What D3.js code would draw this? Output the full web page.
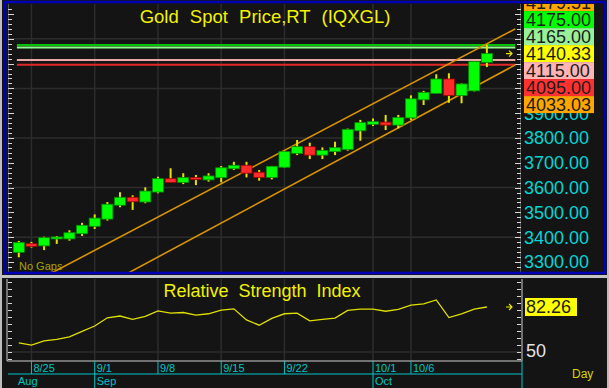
<!DOCTYPE html>
<html>
<head>
<meta charset="utf-8">
<script src="https://cdn.jsdelivr.net/npm/d3@7"></script>
<style>
  html, body { margin: 0; padding: 0; background: #141414; }
  svg { display: block; font-family: "Liberation Sans", Arial, sans-serif; }
</style>
</head>
<body>
<svg id="chart" width="609" height="388"></svg>
<script>
// ---- data ----
const dates = ["8/22","8/25","8/26","8/27","8/28","8/29","9/1","9/2","9/3","9/4","9/5",
  "9/8","9/9","9/10","9/11","9/12","9/15","9/16","9/17","9/18","9/19",
  "9/22","9/23","9/24","9/25","9/26","9/29","9/30","10/1","10/2","10/3",
  "10/6","10/7","10/8","10/9","10/10","10/13","10/14"];
const open  = [3339,3374,3365,3394,3393,3414,3444,3473,3529,3561,3542,3582,3636,3621,3641,3631,3640,3676,3690,3662,
  3641,3682,3738,3765,3731,3745,3754,3829,3855,3864,3852,3881,3954,3980,4038,3971,3990,4105];
const high  = [3385,3381,3402,3405,3428,3458,3492,3542,3581,3569,3601,3644,3678,3658,3651,3658,3687,3704,3704,3671,
  3687,3747,3792,3781,3762,3785,3838,3873,3879,3893,3893,3972,3990,4057,4061,4020,4110,4176];
const low   = [3319,3358,3348,3373,3386,3405,3433,3467,3521,3510,3537,3577,3621,3614,3610,3624,3621,3671,3641,3628,
  3633,3680,3731,3715,3715,3731,3749,3789,3848,3832,3839,3873,3933,3980,3942,3940,3988,4086];
const close = [3379,3363,3398,3401,3418,3448,3477,3533,3561,3543,3586,3636,3621,3641,3632,3647,3680,3690,3658,3641,
  3686,3745,3765,3731,3750,3761,3835,3862,3866,3852,3883,3958,3984,4038,3971,4018,4108,4140.33];
const rsi = [56.5,55.0,58.0,59.1,60.9,64.8,68.6,74.5,75.8,73.4,75.6,79.4,77.8,78.3,76.5,77.4,80.0,80.9,73.0,69.2,
  74.1,77.4,77.8,72.3,73.4,74.3,79.8,80.7,80.7,79.2,80.5,83.6,84.5,87.3,74.7,77.4,80.7,82.26];

const priceTicks = [3300,3400,3500,3600,3700,3800,3900];
const gridPrices = [3400,3600,3800,4000,4200];
const dayTicks = ["8/25","9/1","9/8","9/15","9/22","10/1","10/6"];
const monthNames = ["Aug","Sep","Oct"];
const monthStarts = ["8/22","9/1","10/1"];

// channel lines: [bar index, price] anchors
const upperChannel = [[3.3, 3274.6],[37, 4179.51]];
const lowerChannel = [[9.1, 3268],[37, 4033.03]];

const levels = [4175, 4165, 4115, 4095];
const levelColors = ["#00c000","#90ff90","#e8a8a8","#e02828"];

const tagValues = [4179.51, 4175, 4165, 4140.33, 4115, 4095, 4033.03];
const tagColors = ["#ffa500","#00ff00","#98f098","#ffff00","#ffb4b4","#ff3030","#ffa500"];

// ---- layout ----
const svg = d3.select("#chart");
const P = {left: 8, right: 521, top: 4, bottom: 272};
const R = {top: 279, bottom: 361};

const x = d3.scaleLinear().domain([0, 37]).range([18.8, 486.85]);
const y = d3.scaleLinear().domain([3300, 3800]).range([262, 138]);
const yr = d3.scaleLinear().domain([41.4, 101.6]).range([364, 280]);
const xDate = d => x(dates.indexOf(d));

svg.append("rect").attr("width", 609).attr("height", 388).attr("fill", "#141414");

const defs = svg.append("defs");
defs.append("clipPath").attr("id", "clipTop")
  .append("rect").attr("x", P.left).attr("y", P.top).attr("width", P.right - P.left).attr("height", P.bottom - P.top);
defs.append("clipPath").attr("id", "clipRsi")
  .append("rect").attr("x", P.left).attr("y", R.top).attr("width", P.right - P.left).attr("height", R.bottom - R.top);
defs.append("clipPath").attr("id", "clipAxis")
  .append("rect").attr("x", P.right).attr("y", P.top).attr("width", 90).attr("height", P.bottom - P.top);

// ---- price panel grid ----
const pricePanel = svg.append("g").attr("clip-path", "url(#clipTop)");

pricePanel.append("g")
  .selectAll("line")
  .data(dayTicks)
  .join("line")
    .attr("x1", d => xDate(d)).attr("x2", d => xDate(d))
    .attr("y1", P.top).attr("y2", P.bottom)
    .attr("stroke", "#2c2c2c").attr("stroke-width", 1.5);

pricePanel.append("g")
  .selectAll("line")
  .data(gridPrices)
  .join("line")
    .attr("x1", P.left).attr("x2", P.right)
    .attr("y1", d => y(d)).attr("y2", d => y(d))
    .attr("stroke", "#2c2c2c").attr("stroke-width", 1.5);

// rulers left and right
const rulerVals = d3.range(3260, 4340, 20);
[[P.left, 1], [P.right, -1]].forEach(([rx, dir]) => {
  const g = pricePanel.append("g").attr("stroke", "#d8d8d8").attr("stroke-width", 1);
  g.append("line").attr("x1", rx).attr("x2", rx).attr("y1", P.top).attr("y2", P.bottom).attr("stroke", "#9a9a9a");
  g.selectAll(".t")
    .data(rulerVals)
    .join("line")
      .attr("class", "t")
      .attr("x1", rx).attr("x2", d => rx + dir * (d % 100 === 0 ? 6 : 4))
      .attr("y1", d => Math.round(y(d)) + 0.5).attr("y2", d => Math.round(y(d)) + 0.5);
});

// horizontal levels
pricePanel.append("g")
  .selectAll("line")
  .data(levels)
  .join("line")
    .attr("x1", x(-0.15)).attr("x2", x(39.25))
    .attr("y1", d => y(d)).attr("y2", d => y(d))
    .attr("stroke", (d, i) => levelColors[i])
    .attr("stroke-width", (d, i) => i === 0 ? 2.2 : 2);

// channel lines
const extend = (a) => {
  const slope = (a[1][1] - a[0][1]) / (a[1][0] - a[0][0]);
  const i0 = a[0][0] - 12, i1 = 39.25;
  return [[i0, a[0][1] + slope * (i0 - a[0][0])], [i1, a[0][1] + slope * (i1 - a[0][0])]];
};
pricePanel.append("g")
  .selectAll("line")
  .data([upperChannel, lowerChannel].map(extend))
  .join("line")
    .attr("x1", d => x(d[0][0])).attr("y1", d => y(d[0][1]))
    .attr("x2", d => x(d[1][0])).attr("y2", d => y(d[1][1]))
    .attr("stroke", "#d89400").attr("stroke-width", 1.6);

// candles
const candles = pricePanel.append("g")
  .selectAll("g")
  .data(dates.map((d, i) => ({i, o: open[i], h: high[i], l: low[i], c: close[i]})))
  .join("g");

candles.append("line")
  .attr("x1", d => x(d.i)).attr("x2", d => x(d.i))
  .attr("y1", d => y(d.h)).attr("y2", d => y(d.l))
  .attr("stroke", "#e4e400").attr("stroke-width", 2);

candles.append("rect")
  .attr("x", d => x(d.i) - 5.5)
  .attr("width", 11)
  .attr("y", d => y(Math.max(d.o, d.c)))
  .attr("height", d => Math.max(2, Math.abs(y(d.o) - y(d.c))))
  .attr("fill", d => d.c >= d.o ? "#00ff00" : "#ff2a2a")
  .attr("stroke", d => d.c >= d.o ? "#009000" : "#a00000")
  .attr("stroke-width", 0.8);

// current price arrow
const arrow = (g, ax, ay) => {
  g.append("path")
    .attr("d", `M${ax - 6},${ay} L${ax},${ay} M${ax - 3},${ay - 3} L${ax},${ay} L${ax - 3},${ay + 3}`)
    .attr("stroke", "#e8e800").attr("stroke-width", 1.2).attr("fill", "none");
};
arrow(svg, 512, y(close[close.length - 1]));

pricePanel.append("text")
  .attr("x", 19).attr("y", 270)
  .attr("font-size", 11).attr("fill", "#a4a400")
  .text("No Gaps");

svg.append("text")
  .attr("x", 265).attr("y", 23)
  .attr("text-anchor", "middle")
  .attr("font-size", 18.5).attr("word-spacing", 6)
  .attr("fill", "#f2f200")
  .text("Gold Spot Price,RT (IQXGL)");

// right price axis
const axisG = svg.append("g").attr("clip-path", "url(#clipAxis)");
axisG.selectAll("text")
  .data(priceTicks)
  .join("text")
    .attr("x", 524).attr("y", d => y(d))
    .attr("dy", "0.36em")
    .attr("font-size", 18).attr("fill", "#00d6d6")
    .text(d => d.toFixed(2));

// stacked value tags
const anchorIdx = tagValues.indexOf(close[close.length - 1]);
const anchorY = y(close[close.length - 1]);
const tags = axisG.selectAll(".tag")
  .data(tagValues)
  .join("g")
    .attr("class", "tag")
    .attr("transform", (d, i) => `translate(524,${anchorY + (i - anchorIdx) * 17})`);
tags.append("rect")
  .attr("x", 0).attr("y", -8.5).attr("width", 70).attr("height", 17)
  .attr("fill", (d, i) => tagColors[i]);
tags.append("text")
  .attr("x", 2).attr("dy", "0.36em")
  .attr("font-size", 18).attr("fill", "#1c1c1c")
  .text(d => d.toFixed(2));

// ---- frames ----
svg.append("rect")
  .attr("x", 5).attr("y", 2).attr("width", 600).attr("height", 271)
  .attr("fill", "none").attr("stroke", "#0000b8").attr("stroke-width", 2.5);
svg.append("line")
  .attr("x1", 0).attr("x2", 609).attr("y1", 276.5).attr("y2", 276.5)
  .attr("stroke", "#c4c4c4").attr("stroke-width", 3);
svg.append("line")
  .attr("x1", 1).attr("x2", 1).attr("y1", 0).attr("y2", 388)
  .attr("stroke", "#bdbdbd").attr("stroke-width", 2);
svg.append("line")
  .attr("x1", 608).attr("x2", 608).attr("y1", 0).attr("y2", 388)
  .attr("stroke", "#bdbdbd").attr("stroke-width", 2);

// ---- RSI panel ----
const rsiG = svg.append("g").attr("clip-path", "url(#clipRsi)");
rsiG.append("g")
  .selectAll("line")
  .data(dayTicks)
  .join("line")
    .attr("x1", d => xDate(d)).attr("x2", d => xDate(d))
    .attr("y1", R.top).attr("y2", R.bottom)
    .attr("stroke", "#2c2c2c").attr("stroke-width", 1.5);
rsiG.append("line")
  .attr("x1", P.left).attr("x2", P.right)
  .attr("y1", yr(50)).attr("y2", yr(50))
  .attr("stroke", "#2c2c2c").attr("stroke-width", 1.5);

const rsiRuler = d3.range(45, 101, 5);
[[P.left, 1], [P.right, -1]].forEach(([rx, dir]) => {
  rsiG.append("g").attr("stroke", "#d8d8d8")
    .selectAll("line")
    .data(rsiRuler)
    .join("line")
      .attr("x1", rx).attr("x2", rx + dir * 4)
      .attr("y1", d => Math.round(yr(d)) + 0.5).attr("y2", d => Math.round(yr(d)) + 0.5);
});

rsiG.append("path")
  .datum(rsi)
  .attr("d", d3.line().x((d, i) => x(i)).y(d => yr(d)))
  .attr("fill", "none").attr("stroke", "#e0e000").attr("stroke-width", 1.3);

svg.append("text")
  .attr("x", 262).attr("y", 297)
  .attr("text-anchor", "middle")
  .attr("font-size", 18).attr("word-spacing", 5)
  .attr("fill", "#f2f200")
  .text("Relative Strength Index");

svg.append("path")
  .attr("d", `M${P.left - 1},${R.top} V${R.bottom} H${P.right + 1} V${R.top}`)
  .attr("fill", "none").attr("stroke", "#cfcfcf").attr("stroke-width", 1);

arrow(svg, 512, yr(rsi[rsi.length - 1]));
const rsiTag = svg.append("g").attr("transform", `translate(525,${yr(rsi[rsi.length - 1])})`);
rsiTag.append("rect").attr("x", 0).attr("y", -9).attr("width", 52).attr("height", 18).attr("fill", "#ffff00");
rsiTag.append("text").attr("x", 1).attr("dy", "0.36em").attr("font-size", 18).attr("fill", "#1c1c1c")
  .text(rsi[rsi.length - 1].toFixed(2));

svg.append("text")
  .attr("x", 526).attr("y", yr(50) - 1).attr("dy", "0.36em")
  .attr("font-size", 18).attr("fill", "#e4e4e4")
  .text("50");

// ---- date axis ----
const axisTop = R.bottom, axisMid = 374;
const dateG = svg.append("g").attr("stroke", "#00c4c4");
dateG.selectAll("line.d")
  .data(dayTicks)
  .join("line")
    .attr("class", "d")
    .attr("x1", d => xDate(d)).attr("x2", d => xDate(d))
    .attr("y1", axisTop).attr("y2", axisMid);
dateG.append("line").attr("x1", P.left).attr("x2", P.right + 1).attr("y1", axisMid).attr("y2", axisMid);
dateG.append("line").attr("x1", P.right + 1).attr("x2", P.right + 1).attr("y1", axisTop).attr("y2", 388);
dateG.selectAll("line.m")
  .data(monthStarts.slice(1))
  .join("line")
    .attr("class", "m")
    .attr("x1", d => xDate(d)).attr("x2", d => xDate(d))
    .attr("y1", axisMid).attr("y2", 388);

svg.append("g")
  .selectAll("text")
  .data(dayTicks)
  .join("text")
    .attr("x", d => xDate(d) + 2).attr("y", 372)
    .attr("font-size", 11).attr("fill", "#00c4c4")
    .text(d => d);

svg.append("g")
  .selectAll("text")
  .data(monthNames)
  .join("text")
    .attr("x", (d, i) => i === 0 ? 18 : xDate(monthStarts[i]) + 2).attr("y", 385)
    .attr("font-size", 11).attr("fill", "#00c4c4")
    .text(d => d);

svg.append("text")
  .attr("x", 572).attr("y", 378)
  .attr("font-size", 12).attr("fill", "#d4d400")
  .text("Day");
</script>
</body>
</html>
